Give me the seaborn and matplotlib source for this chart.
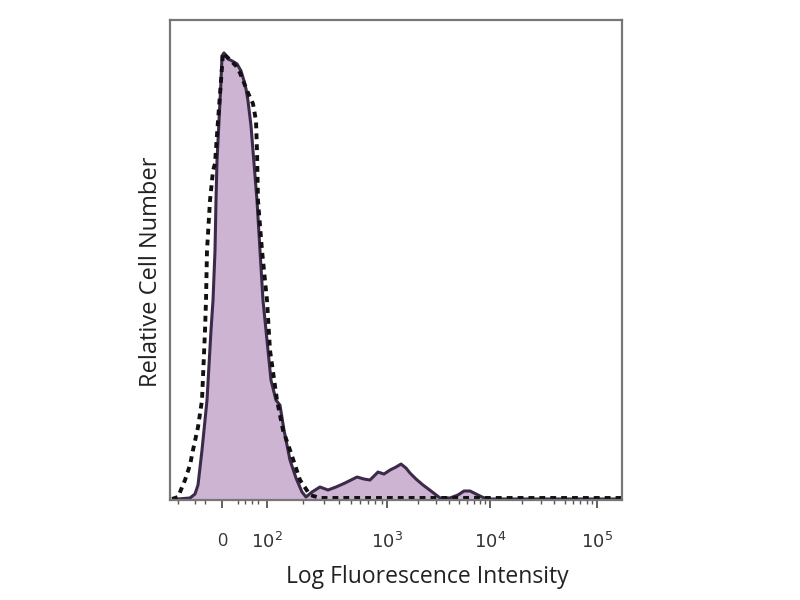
import numpy as np
import matplotlib
matplotlib.use("Agg")
import matplotlib.pyplot as plt
import seaborn as sns

# channel positions (display units along the biexponential axis) and heights
stain_x = [8, 20, 25, 28, 32, 37, 41, 43, 45, 46, 47, 49, 51, 52, 54, 58, 62, 67,
           71, 74, 76, 78, 81, 83, 87, 90, 93, 97, 101, 106, 110, 114, 120, 126,
           132, 136, 142, 150, 158, 166, 175, 187, 194, 200, 208, 214, 220, 226,
           231, 236, 240, 246, 253, 261, 270, 280, 288, 294, 300, 306, 312, 317,
           350, 452]
stain_y = [0, 1, 5, 14, 49, 99, 169, 199, 249, 299, 339, 379, 419, 444, 447, 441,
           439, 436, 429, 419, 411, 399, 374, 349, 299, 249, 199, 159, 119, 99,
           94, 69, 39, 21, 7, 2, 7, 12, 9, 12, 16, 22, 20, 19, 27, 25, 29, 32, 35,
           31, 26, 20, 14, 8, 1, 1, 4, 8, 8, 5, 2, 0, 0, 0]

iso_x = [2, 8, 15, 20, 23, 28, 32, 35, 36, 37, 40, 43, 45, 48, 51, 53, 56, 61,
         66, 70, 74, 78, 83, 86, 87, 88, 92, 97, 100, 107, 113, 120, 130, 140,
         150, 452]
iso_y = [0, 2, 19, 34, 49, 72, 99, 169, 199, 249, 299, 329, 336, 379, 419, 447,
         444, 439, 434, 427, 417, 407, 396, 379, 349, 299, 249, 199, 149, 99, 69,
         49, 19, 4, 1, 1]

major_ticks = [52, 97, 217, 320, 427]
major_labels = ["0", r"$10^2$", r"$10^3$", r"$10^4$", r"$10^5$"]
decade_edges = [(97, 217), (217, 320), (320, 427)]

sns.set_theme(style="white")
plt.rcParams['font.family'] = ['Open Sans', 'DejaVu Sans']

fig = plt.figure(figsize=(8, 6), dpi=100)
ax = fig.add_axes([0.2125, 0.1667, 0.565, 0.8])

ax.fill_between(stain_x, stain_y, 0, color="#cdb4d2", linewidth=0)
sns.lineplot(x=stain_x, y=stain_y, ax=ax, color="#3b2a4a", linewidth=2.2,
             estimator=None, sort=False)
sns.lineplot(x=iso_x, y=iso_y, ax=ax, color="#111111", linewidth=2.8,
             linestyle=(0, (1.5, 1.3)), estimator=None, sort=False)

ax.set_xlim(0, 452)
ax.set_ylim(-1, 480)

minor = [8, 25, 35, 68, 75, 82, 88]
for lo, hi in decade_edges:
    for k in range(2, 10):
        minor.append(lo + (hi - lo) * np.log10(k))
ax.set_xticks(major_ticks)
ax.set_xticklabels(major_labels)
ax.set_xticks(minor, minor=True)
ax.set_yticks([])
ax.tick_params(axis="x", which="major", direction="out", length=6, width=1.3,
               color="#555555", pad=17, labelsize=13, labelcolor="#333333",
               bottom=True)
ax.tick_params(axis="x", which="minor", direction="out", length=3, width=1,
               color="#555555", bottom=True)

for s in ax.spines.values():
    s.set_color("#777777")
    s.set_linewidth(1.6)

ax.set_xlabel("Log Fluorescence Intensity", fontsize=16.5, color="#222222")
ax.set_ylabel("Relative Cell Number", fontsize=17, color="#222222")
ax.xaxis.set_label_coords(0.569, -0.135)
ax.yaxis.set_label_coords(-0.015, 0.475)

fig.savefig("out.png", dpi=100)
